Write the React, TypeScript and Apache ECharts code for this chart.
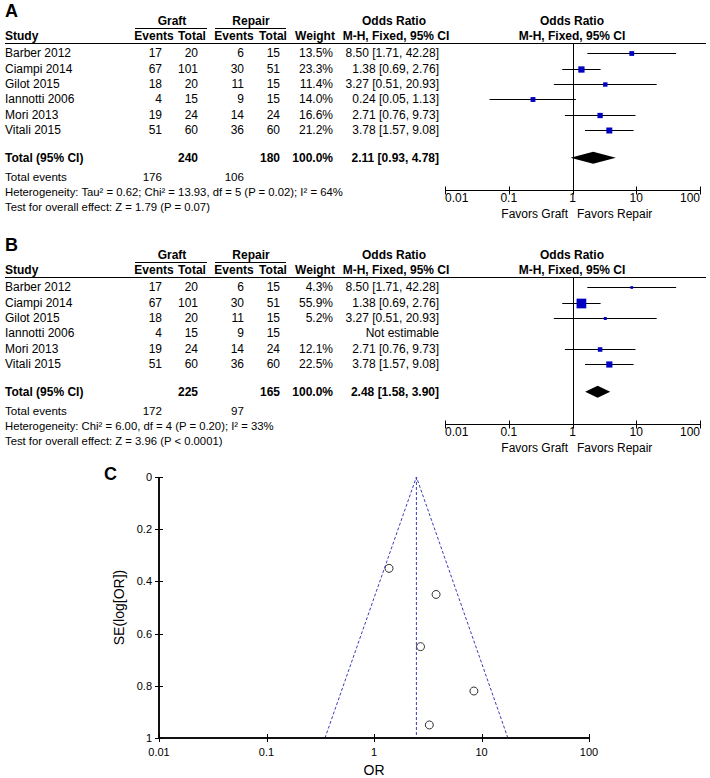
import React, { useEffect, useRef } from "react";
import * as echarts from "echarts";

// ---------- data ----------
const studies = ["Barber 2012", "Ciampi 2014", "Gilot 2015", "Iannotti 2006", "Mori 2013", "Vitali 2015"];
const graftEvents = [17, 67, 18, 4, 19, 51];
const graftTotal = [20, 101, 20, 15, 24, 60];
const repairEvents = [6, 30, 11, 9, 14, 36];
const repairTotal = [15, 51, 15, 15, 24, 60];
const oddsRatio = [8.5, 1.38, 3.27, 0.24, 2.71, 3.78];
const ciLower = [1.71, 0.69, 0.51, 0.05, 0.76, 1.57];
const ciUpper = [42.28, 2.76, 20.93, 1.13, 9.73, 9.08];
const weightA: (number | null)[] = [13.5, 23.3, 11.4, 14.0, 16.6, 21.2];
const weightB: (number | null)[] = [4.3, 55.9, 5.2, null, 12.1, 22.5];
const estimableB = [true, true, true, false, true, true];

const panelLetters = ["A", "B"];
const pooledOR = [2.11, 2.48];
const pooledLower = [0.93, 1.58];
const pooledUpper = [4.78, 3.9];
const totalGraft = [240, 225];
const totalRepair = [180, 165];
const weightTotal = ["100.0%", "100.0%"];
const eventsGraft = [176, 172];
const eventsRepair = [106, 97];
const heterogeneity = [
  "Heterogeneity: Tau\u00b2 = 0.62; Chi\u00b2 = 13.93, df = 5 (P = 0.02); I\u00b2 = 64%",
  "Heterogeneity: Chi\u00b2 = 6.00, df = 4 (P = 0.20); I\u00b2 = 33%",
];
const overallEffect = [
  "Test for overall effect: Z = 1.79 (P = 0.07)",
  "Test for overall effect: Z = 3.96 (P < 0.0001)",
];
const forestTicks = [0.01, 0.1, 1, 10, 100];

// funnel plot (panel C)
const funnelOR = [8.5, 1.38, 3.27, 2.71, 3.78];
const funnelSE = [0.82, 0.35, 0.95, 0.65, 0.45];
const funnelCenter = 2.48;
const funnelLeftAtBase = 0.35;
const funnelRightAtBase = 17.6;
const seTicks = [0, 0.2, 0.4, 0.6, 0.8, 1];

// ---------- layout ----------
const FONT = "'Liberation Sans', Arial, Helvetica, sans-serif";
const PANEL_DY = [0, 234];
const ROW_MIN = -0.6;
const ROW_MAX = 8.9;
const ROW_TOTAL = 6.8;
const ROW_EVENTS = 8;
const ROW_HET = 9;
const ROW_TEST = 10;
const tableRows = [0, 1, 2, 3, 4, 5, ROW_TOTAL, ROW_EVENTS, ROW_HET, ROW_TEST];

const fmtOR = (o: number, l: number, u: number) => `${o.toFixed(2)} [${l.toFixed(2)}, ${u.toFixed(2)}]`;
const fmtLog = (v: number) => String(parseFloat(Number(v).toPrecision(2)));
const font = (size: number, bold = false) => `${bold ? "bold " : ""}${size}px ${FONT}`;
const px = (v: number) => Math.round(v) + 0.5;

function gText(x: number, y: number, text: string, align: string, size = 12, bold = false) {
  return {
    type: "text",
    x,
    y,
    silent: true,
    style: { text, align, verticalAlign: "middle", font: font(size, bold), fill: "#000" },
  };
}
function gLine(x1: number, y1: number, x2: number, y2: number) {
  return { type: "line", silent: true, shape: { x1, y1, x2, y2 }, style: { stroke: "#000", lineWidth: 1 } };
}
function seg(x1: number, y1: number, x2: number, y2: number, color = "#000", w = 1) {
  return { type: "line", shape: { x1, y1, x2, y2 }, style: { stroke: color, lineWidth: w } };
}

function headerGraphics(p: number) {
  const dy = PANEL_DY[p];
  return [
    gText(5, 10.5 + dy, panelLetters[p], "left", 18, true),
    gText(172, 21 + dy, "Graft", "center", 12, true),
    gText(251, 21 + dy, "Repair", "center", 12, true),
    gLine(135, 28.5 + dy, 207, 28.5 + dy),
    gLine(215, 28.5 + dy, 286, 28.5 + dy),
    gText(394, 21 + dy, "Odds Ratio", "center", 12, true),
    gText(572, 21 + dy, "Odds Ratio", "center", 12, true),
    gText(5, 36 + dy, "Study", "left", 12, true),
    gText(154, 36 + dy, "Events", "center", 12, true),
    gText(192, 36 + dy, "Total", "center", 12, true),
    gText(234, 36 + dy, "Events", "center", 12, true),
    gText(273, 36 + dy, "Total", "center", 12, true),
    gText(315, 36 + dy, "Weight", "center", 12, true),
    gText(396, 36 + dy, "M-H, Fixed, 95% CI", "center", 12, true),
    gText(572, 36 + dy, "M-H, Fixed, 95% CI", "center", 12, true),
    gLine(5, 43.5 + dy, 706, 43.5 + dy),
    gText(568, 214 + dy, "Favors Graft", "right", 12),
    gText(577, 214 + dy, "Favors Repair", "left", 12),
  ];
}

function makeTableRender(p: number) {
  return (params: any, api: any) => {
    const i = params.dataIndex;
    const y = api.coord([1, api.value(1)])[1];
    const children: any[] = [];
    const t = (x: number, text: string, align: string, bold = false, size = 12) =>
      children.push({
        type: "text",
        x,
        y,
        style: { text, align, verticalAlign: "middle", font: font(size, bold), fill: "#000" },
      });
    if (i < studies.length) {
      t(5, studies[i], "left");
      t(162, String(graftEvents[i]), "right");
      t(198, String(graftTotal[i]), "right");
      t(244, String(repairEvents[i]), "right");
      t(280, String(repairTotal[i]), "right");
      const w = p === 0 ? weightA[i] : weightB[i];
      if (w != null) t(333, w.toFixed(1) + "%", "right");
      const est = p === 0 || estimableB[i];
      t(439, est ? fmtOR(oddsRatio[i], ciLower[i], ciUpper[i]) : "Not estimable", "right");
    } else if (i === 6) {
      t(5, "Total (95% CI)", "left", true);
      t(198, String(totalGraft[p]), "right", true);
      t(280, String(totalRepair[p]), "right", true);
      t(333, weightTotal[p], "right", true);
      t(439, fmtOR(pooledOR[p], pooledLower[p], pooledUpper[p]), "right", true);
    } else if (i === 7) {
      t(5, "Total events", "left", false, 11.6);
      t(162, String(eventsGraft[p]), "right", false, 11.6);
      t(244, String(eventsRepair[p]), "right", false, 11.6);
    } else if (i === 8) {
      t(5, heterogeneity[p], "left", false, 11.3);
    } else {
      t(5, overallEffect[p], "left", false, 11.3);
    }
    return { type: "group", children };
  };
}

const studyRender = (params: any, api: any) => {
  const row = api.value(1);
  const c = api.coord([api.value(0), row]);
  const lo = api.coord([api.value(2), row]);
  const hi = api.coord([api.value(3), row]);
  const s = 1.3 * Math.sqrt(api.value(4));
  const yy = px(c[1]);
  return {
    type: "group",
    children: [
      seg(lo[0], yy, hi[0], yy),
      { type: "rect", shape: { x: c[0] - s / 2, y: yy - s / 2, width: s, height: s }, style: { fill: "#0000c0" } },
    ],
  };
};

const diamondRender = (params: any, api: any) => {
  const row = api.value(1);
  const c = api.coord([api.value(0), row]);
  const lo = api.coord([api.value(2), row]);
  const hi = api.coord([api.value(3), row]);
  const h = 6;
  return {
    type: "polygon",
    shape: { points: [[lo[0], c[1]], [c[0], c[1] - h], [hi[0], c[1]], [c[0], c[1] + h]] },
    style: { fill: "#000" },
  };
};

// forest axis line, crossing ticks and line of no effect, via the axes' scales
const forestAxisRender = (params: any, api: any) => {
  const yBase = px(api.coord([1, ROW_MAX])[1]);
  const xs = forestTicks.map((t) => px(api.coord([t, ROW_MAX])[0]));
  const children: any[] = [seg(xs[0], yBase, xs[xs.length - 1], yBase)];
  xs.forEach((x) => children.push(seg(x, yBase - 4, x, yBase + 4)));
  const top = api.coord([1, ROW_MIN]);
  children.push(seg(px(top[0]), top[1], px(top[0]), yBase));
  return { type: "group", children };
};

// funnel frame (L shape) and crossing ticks, via the funnel axes' scales
const funnelAxisRender = (params: any, api: any) => {
  const x0 = forestTicks[0];
  const x1 = forestTicks[forestTicks.length - 1];
  const yTop = seTicks[0];
  const yBot = seTicks[seTicks.length - 1];
  const leftX = Math.round(api.coord([x0, yBot])[0]);
  const topY = api.coord([x0, yTop])[1];
  const botY = Math.round(api.coord([x0, yBot])[1]);
  const rightX = Math.round(api.coord([x1, yBot])[0]);
  const children: any[] = [
    seg(leftX, topY, leftX, botY + 1, "#111", 2),
    seg(leftX - 1, botY, rightX, botY, "#111", 2),
  ];
  seTicks.forEach((s) => {
    const y = px(api.coord([x0, s])[1]);
    children.push(seg(leftX - 4, y, leftX + 4, y));
  });
  forestTicks.forEach((t) => {
    const x = px(api.coord([t, yBot])[0]);
    children.push(seg(x, botY - 4, x, botY + 4));
  });
  return { type: "group", children };
};

function buildOption() {
  const grids: any[] = [];
  const xAxes: any[] = [];
  const yAxes: any[] = [];
  const series: any[] = [];
  const graphics: any[] = [];

  for (let p = 0; p < 2; p++) {
    const dy = PANEL_DY[p];
    grids.push({ left: 445, top: 44 + dy, width: 255, height: 146 });
    xAxes.push({
      type: "log",
      logBase: 10,
      gridIndex: p,
      min: forestTicks[0],
      max: forestTicks[forestTicks.length - 1],
      position: "bottom",
      axisLine: { show: false, onZero: false },
      axisTick: { show: false },
      axisLabel: {
        show: true,
        margin: 2,
        fontSize: 12,
        color: "#000",
        fontFamily: FONT,
        formatter: fmtLog,
        showMinLabel: true,
        showMaxLabel: true,
        alignMinLabel: "left",
        alignMaxLabel: "right",
      },
      splitLine: { show: false },
    });
    yAxes.push({ type: "value", gridIndex: p, min: ROW_MIN, max: ROW_MAX, inverse: true, show: false });

    series.push({
      type: "custom",
      xAxisIndex: p,
      yAxisIndex: p,
      clip: false,
      silent: true,
      renderItem: makeTableRender(p),
      data: tableRows.map((r) => [1, r]),
    });
    series.push({
      type: "custom",
      xAxisIndex: p,
      yAxisIndex: p,
      clip: false,
      silent: true,
      renderItem: forestAxisRender,
      data: [[1, ROW_MAX]],
    });
    const studyData: any[] = [];
    studies.forEach((_, i) => {
      const w = p === 0 ? weightA[i] : weightB[i];
      if (p === 1 && !estimableB[i]) return;
      studyData.push([oddsRatio[i], i, ciLower[i], ciUpper[i], w]);
    });
    series.push({
      type: "custom",
      xAxisIndex: p,
      yAxisIndex: p,
      clip: false,
      silent: true,
      renderItem: studyRender,
      data: studyData,
    });
    series.push({
      type: "custom",
      xAxisIndex: p,
      yAxisIndex: p,
      clip: false,
      silent: true,
      renderItem: diamondRender,
      data: [[pooledOR[p], ROW_TOTAL, pooledLower[p], pooledUpper[p]]],
    });
    graphics.push(...headerGraphics(p));
  }

  // funnel plot
  grids.push({ left: 159, top: 477, width: 430, height: 261 });
  xAxes.push({
    type: "log",
    logBase: 10,
    gridIndex: 2,
    min: forestTicks[0],
    max: forestTicks[forestTicks.length - 1],
    position: "bottom",
    name: "OR",
    nameLocation: "middle",
    nameGap: 25,
    nameTextStyle: { fontSize: 14, color: "#000", fontFamily: FONT },
    axisLine: { show: false, onZero: false },
    axisTick: { show: false },
    axisLabel: { show: true, margin: 8, fontSize: 11, color: "#000", fontFamily: FONT, formatter: fmtLog, showMinLabel: true, showMaxLabel: true },
    splitLine: { show: false },
  });
  yAxes.push({
    type: "value",
    gridIndex: 2,
    min: seTicks[0],
    max: seTicks[seTicks.length - 1],
    interval: 0.2,
    inverse: true,
    position: "left",
    name: "SE(log[OR])",
    nameLocation: "middle",
    nameGap: 32,
    nameRotate: 90,
    nameTextStyle: { fontSize: 14, color: "#000", fontFamily: FONT },
    axisLine: { show: false, onZero: false },
    axisTick: { show: false },
    axisLabel: { show: true, margin: 7, fontSize: 11, color: "#000", fontFamily: FONT },
    splitLine: { show: false },
  });
  series.push({
    type: "custom",
    xAxisIndex: 2,
    yAxisIndex: 2,
    clip: false,
    silent: true,
    z: 10,
    renderItem: funnelAxisRender,
    data: [[1, 0.5]],
  });
  const dashed = { color: "#3c3cb4", width: 1, type: [3, 2] };
  series.push({
    type: "line",
    xAxisIndex: 2,
    yAxisIndex: 2,
    symbol: "none",
    silent: true,
    lineStyle: dashed,
    data: [
      [funnelLeftAtBase, 1],
      [funnelCenter, 0],
      [funnelRightAtBase, 1],
    ],
  });
  series.push({
    type: "line",
    xAxisIndex: 2,
    yAxisIndex: 2,
    symbol: "none",
    silent: true,
    lineStyle: dashed,
    data: [
      [funnelCenter, 0],
      [funnelCenter, 1],
    ],
  });
  series.push({
    type: "scatter",
    xAxisIndex: 2,
    yAxisIndex: 2,
    symbol: "circle",
    symbolSize: 8,
    silent: true,
    itemStyle: { color: "rgba(255,255,255,0)", borderColor: "#000", borderWidth: 1 },
    data: funnelOR.map((v, i) => [v, funnelSE[i]]),
  });
  graphics.push(gText(104, 474, "C", "left", 18, true));

  return {
    animation: false,
    backgroundColor: "#fff",
    textStyle: { fontFamily: FONT },
    grid: grids,
    xAxis: xAxes,
    yAxis: yAxes,
    series,
    graphic: { elements: graphics },
  };
}

export default function App() {
  const ref = useRef<HTMLDivElement>(null);
  useEffect(() => {
    if (!ref.current) return;
    const chart = echarts.init(ref.current, null, { renderer: "svg" });
    chart.setOption(buildOption() as any);
    return () => chart.dispose();
  }, []);
  return (
    <div
      ref={ref}
      style={{ position: "absolute", left: 0, top: 0, width: 710, height: 778, background: "#fff" }}
    />
  );
}
